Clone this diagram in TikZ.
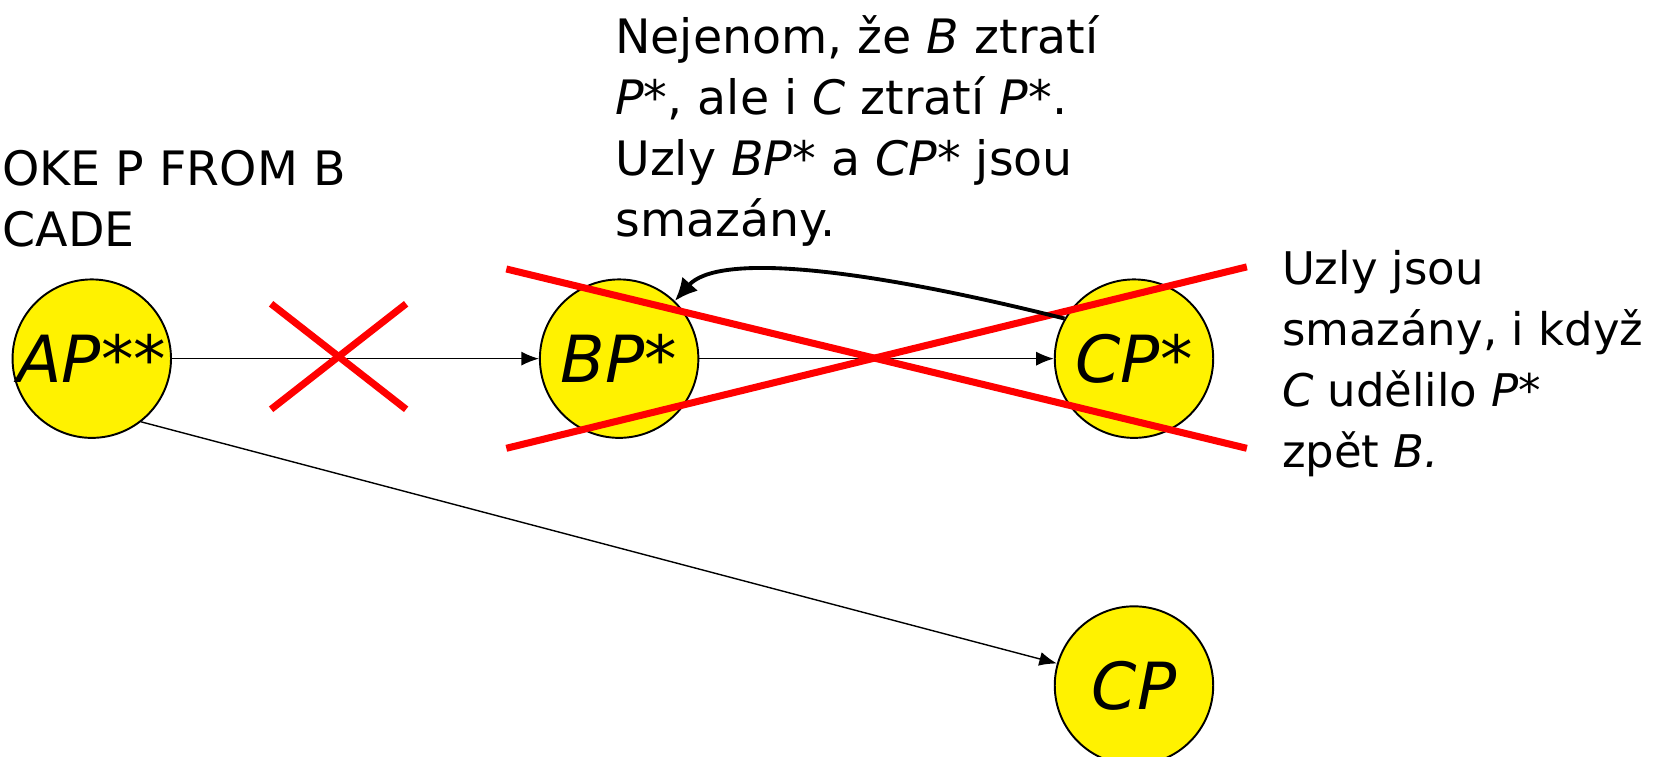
\documentclass[tikz,border=0pt]{standalone}
\usepackage{fontspec}
\setmainfont{DejaVu Sans}
\usetikzlibrary{arrows.meta}

\begin{document}
\begin{tikzpicture}[x=0.0211cm, y=-0.0211cm]
	\tikzstyle{grant} = [draw=black, line width=1.1pt, fill=yellow, circle, minimum size=3.17cm, inner sep=0pt, font=\fontsize{37}{44}\selectfont\itshape, node distance=10.55cm]
	\tikzstyle{strike} = [draw=red, line width=4pt]
	\tikzstyle{note} = [anchor=north west, inner sep=0pt, align=left, font=\fontsize{27}{34.8}\selectfont]
	\tikzstyle{flow} = [draw, line width=0.8pt, -{Latex[length=10pt,width=8pt]}]

	\useasboundingbox (0,0) rectangle (1568,717);

	\node[grant] (ap) at (87,340) {AP**};
	\node[grant] (bp) [right of=ap] {BP*};
	\node[grant, node distance=10.3cm] (cps) [right of=bp] {CP*};
	\node[grant, node distance=6.54cm] (cp) [below of=cps] {CP};

	\node[note] (cmd) at (2,142) {OKE P FROM B\\CADE};
	\node[note] (top) at (583,14) {Nejenom, že \textit{B} ztratí\\
		\textit{P*}, ale i \textit{C} ztratí \textit{P*}.\\
		Uzly \textit{BP*} a \textit{CP*} jsou\\
		smazány.};
	\node[note, font=\fontsize{25.6}{34.8}\selectfont] (side) at (1215,237) {Uzly jsou\\
		smazány, i když\\
		\textit{C} udělilo \textit{P*}\\
		zpět \textit{B.}};

	\draw[flow] (ap) -- (bp);
	\draw[flow] (bp) -- (cps);
	\draw[flow] (ap.-52) -- (cp.164);

	% crossed out
	\draw[strike] (257,288) -- (385,388);
	\draw[strike] (257,388) -- (385,288);
	\draw[strike] (480,255) -- (1182,425);
	\draw[strike] (480,425) -- (1182,253);

	\draw[line width=2.2pt, -{Latex[length=13pt,width=12pt]}] (cps.150) .. controls +(-200,-50) and +(40,-45) .. (bp.46);
\end{tikzpicture}
\end{document}
